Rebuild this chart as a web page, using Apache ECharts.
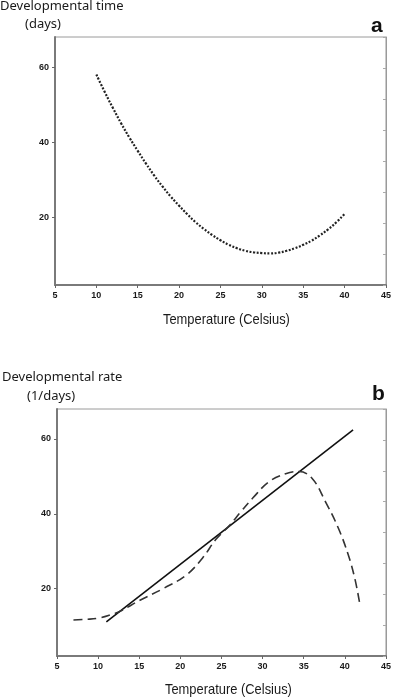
<!DOCTYPE html>
<html>
<head>
<meta charset="utf-8">
<script src="https://cdn.jsdelivr.net/npm/echarts@6/dist/echarts.min.js"></script>
<style>
  html, body { margin: 0; padding: 0; background: #fff; }
  #chart { width: 394px; height: 699px; }
</style>
</head>
<body>
<div id="chart"></div>
<script>
// panel a: developmental time (days) vs temperature
var tempA = [10, 11, 12, 13, 14, 15, 16, 17, 18, 19, 20, 21, 22, 23, 24, 25,
             26, 27, 28, 29, 30, 31, 32, 33, 34, 35, 36, 37, 38, 39, 40];
var timeA = [58.0, 53.4, 49.1, 45.0, 41.2, 37.7, 34.3, 31.1, 28.2, 25.5, 23.1, 20.8, 18.7, 16.9, 15.3, 13.9,
             12.7, 11.8, 11.1, 10.7, 10.5, 10.4, 10.6, 11.1, 11.8, 12.7, 13.8, 15.2, 16.8, 18.7, 20.9];

// panel b: linear model
var tempLin = [11, 41];
var rateLin = [11.1, 62.4];

// panel b: non-linear model (dashed)
var tempCurve = [7, 8.5, 10, 11.5, 12.8, 15, 17.9, 20.7, 22.7, 24.3, 25.9, 27.3, 28.8, 30.8, 32.8, 34.4, 36.0, 37.6, 39.2, 40.4, 41.2, 41.8];
var rateCurve = [11.6, 11.8, 12.1, 13.0, 14.1, 16.8, 20.0, 23.6, 28.2, 33.1, 36.7, 40.4, 44.2, 48.6, 50.7, 51.3, 49.5, 43.4, 36.2, 29.1, 22.8, 16.1];

var yTicks = [20, 40, 60];

function zip(xs, ys) {
  return xs.map(function (x, i) { return [x, ys[i]]; });
}

function xAxisCfg(gi) {
  return {
    type: "value",
    gridIndex: gi,
    min: 5,
    max: 45,
    interval: 5,
    axisLine: { lineStyle: { color: "#7a7a7a", width: 2 } },
    axisTick: { length: 3, lineStyle: { color: "#666" } },
    axisLabel: { color: "#1a1a1a", fontSize: 9, fontWeight: "bold", fontFamily: "Liberation Sans", margin: 6 },
    splitLine: { show: false },
  };
}

function yLeftCfg(gi) {
  return {
    type: "value",
    gridIndex: gi,
    min: 2,
    max: 68,
    axisLine: { show: true, lineStyle: { color: "#7a7a7a", width: 2 } },
    axisTick: { show: true, length: 3, customValues: yTicks, lineStyle: { color: "#666" } },
    axisLabel: { customValues: yTicks, color: "#1a1a1a", fontSize: 9, fontWeight: "bold", fontFamily: "Liberation Sans", margin: 6 },
    splitLine: { show: false },
  };
}

function yRightCfg(gi) {
  return {
    type: "value",
    gridIndex: gi,
    position: "right",
    min: 0,
    max: 8,
    interval: 1,
    axisLine: { show: true, lineStyle: { color: "#9a9a9a", width: 1 } },
    axisTick: { show: true, inside: true, length: 3, lineStyle: { color: "#aaa" } },
    axisLabel: { show: false },
    splitLine: { show: false },
  };
}

var titleFont = { fontFamily: "Noto Sans", fontSize: 13, fill: "#1a1a1a" };
var xNameFont = { fontFamily: "Liberation Sans", fontSize: 15, fill: "#1a1a1a" };

var myChart = echarts.init(document.getElementById("chart"));
var option = {
  backgroundColor: "#fff",
  animation: false,
  grid: [
    { left: 55, top: 37, width: 331, height: 248, show: true, borderColor: "#9a9a9a", borderWidth: 1 },
    { left: 57, top: 409, width: 330, height: 247, show: true, borderColor: "#9a9a9a", borderWidth: 1 },
  ],
  xAxis: [xAxisCfg(0), xAxisCfg(1)],
  yAxis: [yLeftCfg(0), yRightCfg(0), yLeftCfg(1), yRightCfg(1)],
  graphic: [
    { type: "text", left: 0, top: 0, style: Object.assign({ text: "Developmental time" }, titleFont) },
    { type: "text", left: 25, top: 18, style: Object.assign({ text: "(days)" }, titleFont) },
    { type: "text", left: 371, top: 16, style: { text: "a", fontFamily: "Liberation Sans", fontWeight: "bold", fontSize: 21, fill: "#111" } },
    { type: "text", x: 163, y: 312, scaleX: 0.86, style: Object.assign({ text: "Temperature (Celsius)" }, xNameFont) },

    { type: "text", left: 2, top: 371, style: Object.assign({ text: "Developmental rate" }, titleFont) },
    { type: "text", left: 27, top: 390, style: Object.assign({ text: "(1/days)" }, titleFont) },
    { type: "text", left: 372, top: 384, style: { text: "b", fontFamily: "Liberation Sans", fontWeight: "bold", fontSize: 21, fill: "#111" } },
    { type: "text", x: 165, y: 682, scaleX: 0.86, style: Object.assign({ text: "Temperature (Celsius)" }, xNameFont) },
  ],
  series: [
    {
      type: "line",
      xAxisIndex: 0,
      yAxisIndex: 0,
      data: zip(tempA, timeA),
      smooth: true,
      symbol: "none",
      lineStyle: { color: "#222", width: 2.2, type: [2, 1.6] },
    },
    {
      type: "line",
      xAxisIndex: 1,
      yAxisIndex: 2,
      data: zip(tempLin, rateLin),
      symbol: "none",
      lineStyle: { color: "#111", width: 1.6 },
    },
    {
      type: "line",
      xAxisIndex: 1,
      yAxisIndex: 2,
      data: zip(tempCurve, rateCurve),
      smooth: 0.4,
      symbol: "none",
      lineStyle: { color: "#333", width: 1.6, type: [9, 5] },
    },
  ],
};
option && myChart.setOption(option);
</script>
</body>
</html>
